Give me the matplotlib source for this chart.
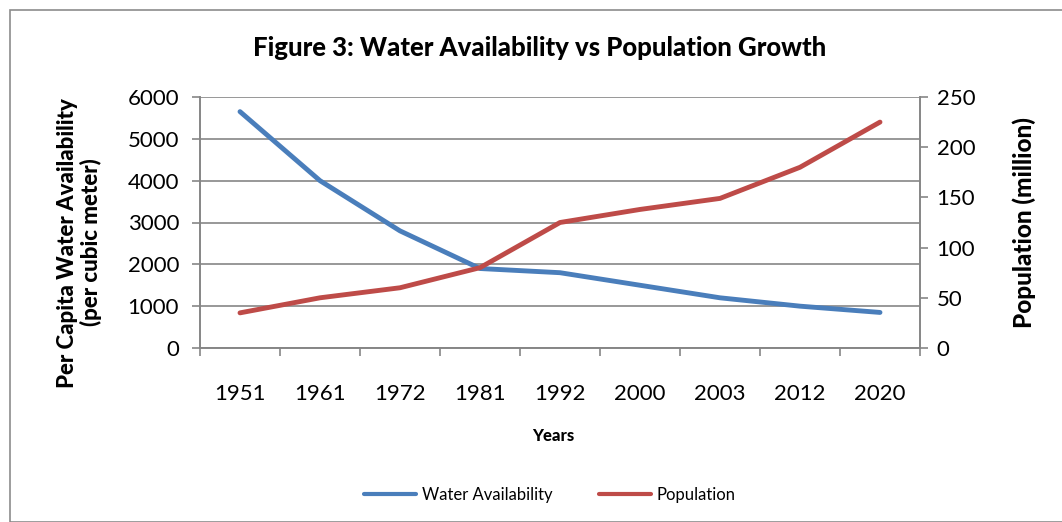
import numpy as np
import matplotlib.pyplot as plt
from matplotlib.patches import Rectangle

years = ['1951', '1961', '1972', '1981', '1992', '2000', '2003', '2012', '2020']
water = [5650, 4000, 2800, 1900, 1800, 1500, 1200, 1000, 850]
population = [35, 50, 60, 80, 125, 138, 149, 180, 225]

plt.rcParams['font.family'] = ['Lato', 'DejaVu Sans']
grey = '#868686'

fig = plt.figure(figsize=(10.62, 5.22), dpi=100)
fig.patches.append(Rectangle((10 / 1062, 0), 1.1, (522 - 10) / 522, transform=fig.transFigure,
                             fill=False, edgecolor='#8c8c8c', lw=1.2))

ax = fig.add_axes([200 / 1062, 1 - 348 / 522, 720 / 1062, 251 / 522])
ax2 = ax.twinx()

x = np.arange(len(years))
l1, = ax.plot(x, water, color='#4a7ebb', lw=3.5, solid_capstyle='round', label='Water Availability')
l2, = ax2.plot(x, population, color='#be4b48', lw=3.5, solid_capstyle='round', label='Population')

ax.set_xlim(-0.5, len(years) - 0.5)
ax.set_ylim(0, 6000)
ax.set_yticks(range(0, 6001, 1000))
ax2.set_ylim(0, 250)
ax2.set_yticks(range(0, 251, 50))

ax.yaxis.grid(True, color=grey, lw=1.2)
ax.set_axisbelow(True)

# category ticks sit between labels
ax.set_xticks(np.arange(-0.5, len(years)), minor=True)
ax.set_xticks(x)
ax.set_xticklabels(years, fontsize=16)
ax.tick_params(axis='x', which='major', length=0, pad=26)
ax.tick_params(axis='x', which='minor', length=6, color=grey, width=1.2)
ax.tick_params(axis='y', length=6, color=grey, width=1.2, labelsize=16, pad=9)
ax2.tick_params(axis='y', length=6, color=grey, width=1.2, labelsize=16, pad=6)

for a in (ax, ax2):
    a.spines['top'].set_visible(False)
    for s in ('left', 'right', 'bottom'):
        a.spines[s].set_color(grey)
        a.spines[s].set_linewidth(1.2)

ax.set_ylabel('Per Capita Water Availability\n(per cubic meter)', fontsize=16, fontweight='black',
              linespacing=1.1)
ax.yaxis.set_label_coords(-0.136, 0.42)
ax2.set_ylabel('Population (million)', fontsize=17.5, fontweight='black')
ax2.yaxis.set_label_coords(1.128, 0.5)

fig.text(553 / 1062, 1 - 436 / 522, 'Years', ha='center', va='center', fontsize=12, fontweight='black')

fig.text(540 / 1062, 1 - 48 / 522, 'Figure 3: Water Availability vs Population Growth',
         ha='center', va='center', fontsize=18.5, fontweight='black')

fig.legend(handles=[l1, l2], loc='center', bbox_to_anchor=(550 / 1062, 1 - 495 / 522),
           ncol=2, frameon=False, fontsize=12, handlelength=3.1, columnspacing=2.8, handletextpad=0.35)
for h in fig.legends[0].get_lines():
    h.set_linewidth(3)

fig.savefig('out.png', dpi=100)
